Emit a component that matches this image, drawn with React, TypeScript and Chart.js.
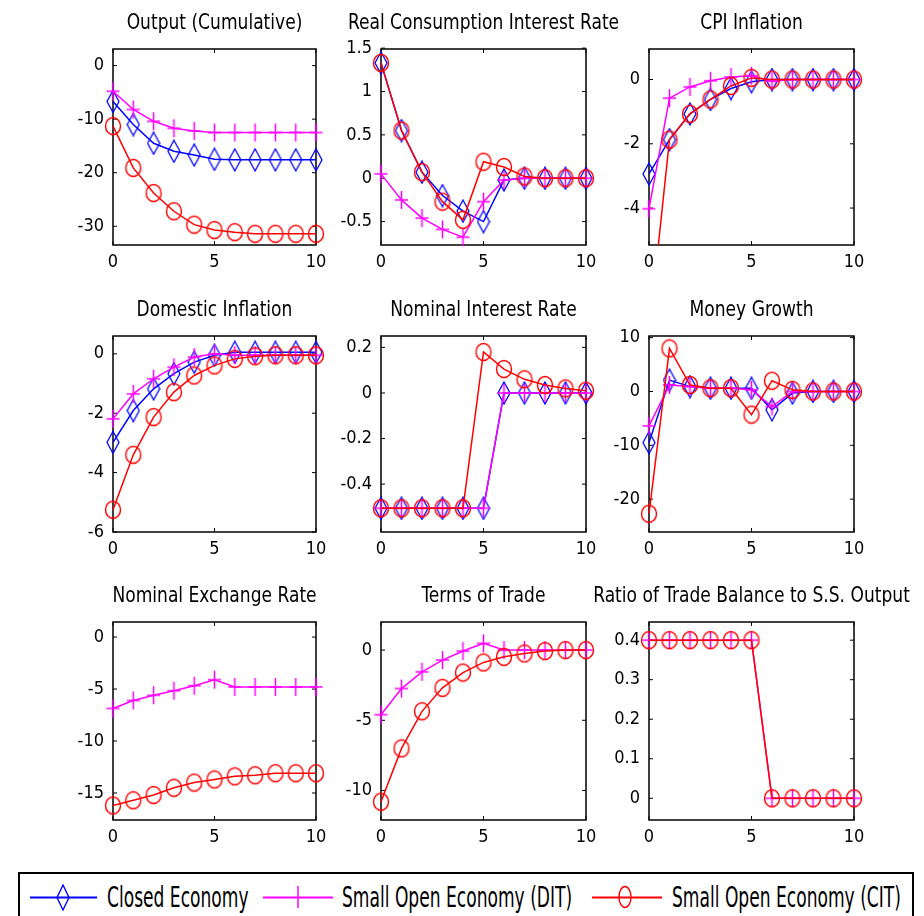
import React, { useEffect, useRef } from "react";
import { Chart, registerables } from "chart.js";

Chart.register(...registerables);

// ---------- data ----------
const periods = [0, 1, 2, 3, 4, 5, 6, 7, 8, 9, 10];
const xTickValues = [0, 5, 10];

const seriesNames = ["Closed Economy", "Small Open Economy (DIT)", "Small Open Economy (CIT)"];

// Output (Cumulative)
const outputTicks = [0, -10, -20, -30];
const outputClosed = [-6.7, -11.0, -14.5, -16.0, -16.7, -17.5, -17.6, -17.6, -17.6, -17.6, -17.6];
const outputDIT = [-4.8, -8.2, -10.4, -11.7, -12.2, -12.5, -12.5, -12.5, -12.5, -12.5, -12.5];
const outputCIT = [-11.3, -19.1, -23.8, -27.2, -29.7, -30.7, -31.1, -31.4, -31.4, -31.4, -31.4];

// Real Consumption Interest Rate
const realRateTicks = [1.5, 1, 0.5, 0, -0.5];
const realRateClosed = [1.33, 0.55, 0.07, -0.2, -0.38, -0.5, -0.02, 0, 0, 0, 0];
const realRateDIT = [0.05, -0.25, -0.46, -0.59, -0.68, -0.27, -0.02, 0, 0, 0, 0];
const realRateCIT = [1.33, 0.55, 0.07, -0.27, -0.48, 0.19, 0.13, 0.02, 0, 0, 0];

// CPI Inflation
const cpiTicks = [0, -2, -4];
const cpiClosed = [-2.94, -1.87, -1.07, -0.62, -0.28, -0.07, 0, 0, 0, 0, 0];
const cpiDIT = [-4.02, -0.58, -0.23, -0.04, 0.08, 0.12, -0.05, 0, 0, 0, 0];
const cpiCIT = [-7.9, -1.87, -1.07, -0.62, -0.2, 0.05, 0, 0, 0, 0, 0];

// Domestic Inflation
const domTicks = [0, -2, -4, -6];
const domClosed = [-2.98, -1.91, -1.18, -0.67, -0.28, -0.05, 0.05, 0.05, 0.05, 0.05, 0.05];
const domDIT = [-2.19, -1.35, -0.84, -0.45, -0.11, 0, -0.05, -0.05, -0.05, -0.05, -0.05];
const domCIT = [-5.25, -3.4, -2.13, -1.29, -0.73, -0.39, -0.17, -0.08, -0.05, -0.05, -0.05];

// Nominal Interest Rate
const nomRateTicks = [0.2, 0, -0.2, -0.4];
const nomRateClosed = [-0.506, -0.506, -0.506, -0.506, -0.506, -0.506, 0, 0, 0, 0, 0];
const nomRateDIT = [-0.506, -0.506, -0.506, -0.506, -0.506, -0.506, 0, 0, 0, 0, 0];
const nomRateCIT = [-0.506, -0.506, -0.506, -0.506, -0.506, 0.18, 0.105, 0.06, 0.035, 0.02, 0.01];

// Money Growth
const moneyTicks = [10, 0, -10, -20];
const moneyClosed = [-9.5, 2.1, 0.9, 0.6, 0.6, 0.6, -3.4, -0.3, 0, 0, 0];
const moneyDIT = [-6.4, 1.2, 0.9, 0.6, 0.6, 0.3, -2.8, 0, 0, 0, 0];
const moneyCIT = [-22.7, 8.0, 1.2, 0.6, 0.6, -4.3, 2.0, 0.3, 0, 0, 0];

// Nominal Exchange Rate
const nerTicks = [0, -5, -10, -15];
const nerDIT = [-6.87, -6.1, -5.6, -5.16, -4.68, -4.1, -4.8, -4.8, -4.8, -4.8, -4.8];
const nerCIT = [-16.2, -15.7, -15.2, -14.5, -14.0, -13.7, -13.4, -13.3, -13.1, -13.1, -13.1];

// Terms of Trade
const totTicks = [0, -5, -10];
const totDIT = [-4.6, -2.74, -1.55, -0.71, -0.07, 0.48, 0, 0, 0, 0, 0];
const totCIT = [-10.8, -7.0, -4.36, -2.69, -1.6, -0.88, -0.48, -0.24, -0.07, 0, 0];

// Ratio of Trade Balance to S.S. Output
const tbTicks = [0.4, 0.3, 0.2, 0.1, 0];
const tbDIT = [0.4, 0.4, 0.4, 0.4, 0.4, 0.4, 0, 0, 0, 0, 0];
const tbCIT = [0.4, 0.4, 0.4, 0.4, 0.4, 0.4, 0, 0, 0, 0, 0];

// ---------- styles / layout ----------
const FONT = "'DejaVu Sans Condensed', 'DejaVu Sans', sans-serif";
const COLORS = ["#0000ff", "#ff00ff", "#ff0000"];

const colBounds = [
  { left: 113, right: 316 },
  { left: 381, right: 586 },
  { left: 649, right: 854 },
];
const rowBounds = [
  { top: 49, bottom: 245 },
  { top: 336, bottom: 532 },
  { top: 622, bottom: 820 },
];

type Panel = {
  title: string;
  ticks: number[];
  min: number;
  max: number;
  series: (number[] | null)[];
  clipBottom?: boolean;
};

const panels: Panel[] = [
  { title: "Output (Cumulative)", ticks: outputTicks, min: -33.5, max: 3.1, series: [outputClosed, outputDIT, outputCIT] },
  { title: "Real Consumption Interest Rate", ticks: realRateTicks, min: -0.77, max: 1.49, series: [realRateClosed, realRateDIT, realRateCIT] },
  { title: "CPI Inflation", ticks: cpiTicks, min: -5.15, max: 0.95, series: [cpiClosed, cpiDIT, cpiCIT], clipBottom: true },
  { title: "Domestic Inflation", ticks: domTicks, min: -6, max: 0.6, series: [domClosed, domDIT, domCIT] },
  { title: "Nominal Interest Rate", ticks: nomRateTicks, min: -0.61, max: 0.25, series: [nomRateClosed, nomRateDIT, nomRateCIT] },
  { title: "Money Growth", ticks: moneyTicks, min: -26.1, max: 10.3, series: [moneyClosed, moneyDIT, moneyCIT] },
  { title: "Nominal Exchange Rate", ticks: nerTicks, min: -17.6, max: 1.45, series: [null, nerDIT, nerCIT] },
  { title: "Terms of Trade", ticks: totTicks, min: -12.1, max: 2.0, series: [null, totDIT, totCIT] },
  { title: "Ratio of Trade Balance to S.S. Output", ticks: tbTicks, min: -0.055, max: 0.446, series: [null, tbDIT, tbCIT] },
];

const PAD_L = 75;
const PAD_R = 75;
const PAD_T = 45;
const PAD_B = 35;

// ---------- marker images ----------
function makeMarker(kind: number, color: string): HTMLCanvasElement {
  const c = document.createElement("canvas");
  const ctx = c.getContext("2d")!;
  if (kind === 0) {
    // tall diamond
    c.width = 14; c.height = 24;
    ctx.strokeStyle = color; ctx.lineWidth = 1.3;
    ctx.beginPath();
    ctx.moveTo(7, 1); ctx.lineTo(13, 12); ctx.lineTo(7, 23); ctx.lineTo(1, 12); ctx.closePath();
    ctx.stroke();
  } else if (kind === 1) {
    // plus
    c.width = 15; c.height = 20;
    ctx.strokeStyle = color; ctx.lineWidth = 1.5;
    ctx.beginPath();
    ctx.moveTo(7.5, 1); ctx.lineTo(7.5, 19);
    ctx.moveTo(1, 10); ctx.lineTo(14, 10);
    ctx.stroke();
  } else {
    // circle (slightly tall)
    c.width = 18; c.height = 20;
    ctx.strokeStyle = color; ctx.lineWidth = 1.4;
    ctx.beginPath();
    ctx.ellipse(9, 10, 7.5, 8.5, 0, 0, Math.PI * 2);
    ctx.stroke();
  }
  return c;
}

// ---------- plugins ----------
const framePlugin = {
  id: "matlabFrame",
  beforeDatasetsDraw(chart: any) {
    const { ctx, chartArea: a, scales } = chart;
    ctx.save();
    ctx.strokeStyle = "#000";
    ctx.lineWidth = 1.5;
    ctx.strokeRect(a.left, a.top, a.right - a.left, a.bottom - a.top);
    ctx.lineWidth = 1;
    ctx.beginPath();
    const tl = 4;
    scales.y.ticks.forEach((t: any) => {
      const y = scales.y.getPixelForValue(t.value);
      ctx.moveTo(a.left, y); ctx.lineTo(a.left + tl, y);
      ctx.moveTo(a.right, y); ctx.lineTo(a.right - tl, y);
    });
    scales.x.ticks.forEach((t: any) => {
      const x = scales.x.getPixelForValue(t.value);
      ctx.moveTo(x, a.bottom); ctx.lineTo(x, a.bottom - tl);
      ctx.moveTo(x, a.top); ctx.lineTo(x, a.top + tl);
    });
    ctx.stroke();
    ctx.restore();
  },
};

const titlePlugin = {
  id: "panelTitle",
  afterDraw(chart: any, _args: any, opts: any) {
    const { ctx, chartArea: a } = chart;
    ctx.save();
    ctx.fillStyle = "#000";
    ctx.font = `19px ${FONT}`;
    ctx.textAlign = "center";
    ctx.textBaseline = "middle";
    ctx.translate((a.left + a.right) / 2, a.top - 26);
    ctx.scale(1, 1.15);
    ctx.fillText(opts.text, 0, 0);
    ctx.restore();
  },
};

function PanelChart({ panel, row, col }: { panel: Panel; row: number; col: number }) {
  const ref = useRef<HTMLCanvasElement | null>(null);
  const cb = colBounds[col];
  const rb = rowBounds[row];
  const w = cb.right - cb.left + PAD_L + PAD_R;
  const h = rb.bottom - rb.top + PAD_T + PAD_B;

  useEffect(() => {
    if (!ref.current) return;
    const markers = [0, 1, 2].map((k) => makeMarker(k, COLORS[k]));
    const datasets: any[] = [];
    panel.series.forEach((s, i) => {
      if (!s) return;
      datasets.push({
        label: seriesNames[i],
        data: s,
        borderColor: COLORS[i],
        backgroundColor: COLORS[i],
        borderWidth: 1.5,
        pointStyle: markers[i],
        pointRadius: 8,
        pointHoverRadius: 8,
        pointBorderWidth: 0,
        fill: false,
        tension: 0,
        order: 2 - i,
        clip: { left: false, right: false, top: false, bottom: panel.clipBottom && i === 2 ? 0 : false },
      });
    });
    const tickFont = { family: FONT, size: 18 };
    const chart = new Chart(ref.current, {
      type: "line",
      data: { labels: periods, datasets },
      plugins: [framePlugin, titlePlugin],
      options: {
        animation: false,
        responsive: false,
        maintainAspectRatio: false,
        events: [],
        layout: { padding: { left: 0, right: PAD_R, top: PAD_T, bottom: 0 } },
        plugins: {
          legend: { display: false },
          tooltip: { enabled: false },
          panelTitle: { text: panel.title },
        } as any,
        scales: {
          x: {
            type: "linear",
            min: 0,
            max: 10,
            bounds: "data",
            grid: { display: false, drawTicks: false },
            border: { display: false },
            ticks: { font: tickFont, color: "#000", padding: 7, maxRotation: 0, callback: (v: any) => String(v) },
            afterBuildTicks: (s: any) => { s.ticks = xTickValues.map((v) => ({ value: v })); },
            afterFit: (s: any) => { s.height = PAD_B; },
          },
          y: {
            type: "linear",
            min: panel.min,
            max: panel.max,
            bounds: "data",
            grid: { display: false, drawTicks: false },
            border: { display: false },
            ticks: { font: tickFont, color: "#000", padding: 9, callback: (v: any) => String(v) },
            afterBuildTicks: (s: any) => { s.ticks = panel.ticks.map((v) => ({ value: v })); },
            afterFit: (s: any) => { s.width = PAD_L; },
          },
        },
      } as any,
    });
    return () => chart.destroy();
  }, [panel]);

  return (
    <canvas
      ref={ref}
      width={w}
      height={h}
      style={{ position: "absolute", left: cb.left - PAD_L, top: rb.top - PAD_T, width: w, height: h }}
    />
  );
}

function Legend() {
  const textStyle: React.CSSProperties = {
    position: "absolute",
    top: 884,
    height: 26,
    lineHeight: "26px",
    fontFamily: FONT,
    fontSize: 19,
    color: "#000",
    whiteSpace: "nowrap",
    transform: "scaleY(1.45)",
    transformOrigin: "left center",
  };
  return (
    <>
      <div
        style={{
          position: "absolute",
          left: 18,
          top: 872,
          width: 896,
          height: 70,
          border: "2px solid #000",
          boxSizing: "border-box",
          background: "#fff",
        }}
      />
      <svg style={{ position: "absolute", left: 0, top: 872 }} width={924} height={44}>
        {/* closed economy */}
        <line x1={30} y1={25.5} x2={97} y2={25.5} stroke={COLORS[0]} strokeWidth={2} />
        <polygon points="63,13 69,25.5 63,38 57,25.5" fill="none" stroke={COLORS[0]} strokeWidth={1.4} />
        {/* DIT */}
        <line x1={263} y1={25.5} x2={333} y2={25.5} stroke={COLORS[1]} strokeWidth={2} />
        <line x1={298} y1={14} x2={298} y2={36} stroke={COLORS[1]} strokeWidth={1.5} />
        {/* CIT */}
        <line x1={592} y1={25.5} x2={662} y2={25.5} stroke={COLORS[2]} strokeWidth={2} />
        <ellipse cx={625} cy={25} rx={6} ry={10.5} fill="none" stroke={COLORS[2]} strokeWidth={1.4} />
      </svg>
      <div style={{ ...textStyle, left: 107 }}>{seriesNames[0]}</div>
      <div style={{ ...textStyle, left: 342 }}>{seriesNames[1]}</div>
      <div style={{ ...textStyle, left: 672 }}>{seriesNames[2]}</div>
    </>
  );
}

export default function App() {
  return (
    <div
      style={{
        position: "absolute",
        left: 0,
        top: 0,
        width: 924,
        height: 916,
        overflow: "hidden",
        background: "#fff",
      }}
    >
      {panels.map((p, i) => (
        <PanelChart key={i} panel={p} row={Math.floor(i / 3)} col={i % 3} />
      ))}
      <Legend />
    </div>
  );
}
